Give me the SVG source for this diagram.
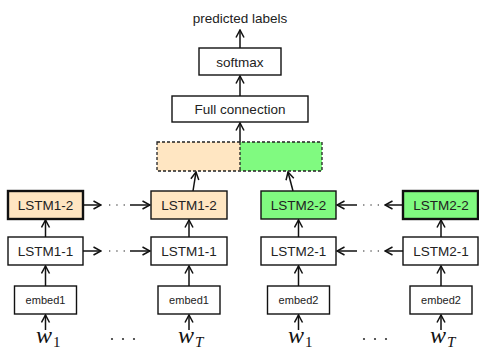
<svg xmlns="http://www.w3.org/2000/svg" width="479" height="349" viewBox="0 0 479 349">
<defs>
<style>
.box{fill:#fff;stroke:#111;stroke-width:1.4}
.thick{stroke-width:2.4}
.or{fill:#FFE6C2}
.gr{fill:#80FA80}
.lbl{font-family:"Liberation Sans",Arial,sans-serif;font-size:13.5px;fill:#222;text-anchor:middle;dominant-baseline:central}
.sm{font-size:11px}
.edge{stroke:#111;stroke-width:1.5;fill:none;marker-end:url(#ah)}
.dots{stroke:#666;stroke-width:1.3;stroke-dasharray:1.3 6;fill:none}
.math{font-family:"Liberation Serif","Times New Roman",serif;font-style:italic;font-size:24px;fill:#111}
.sub{font-family:"Liberation Serif","Times New Roman",serif;font-size:15px;fill:#111}
</style>
<marker id="ah" viewBox="0 0 10 10" refX="9" refY="5" markerWidth="10" markerHeight="10" markerUnits="userSpaceOnUse" orient="auto">
<path d="M1.5,1 L9,5 L1.5,9" fill="none" stroke="#111" stroke-width="1.5"/>
</marker>
</defs>
<rect width="479" height="349" fill="#fff"/>

<g id="connectors">
<line class="edge" x1="240" y1="48" x2="240" y2="30"/>
<line class="edge" x1="240" y1="96" x2="240" y2="76"/>
<line class="edge" x1="240" y1="142" x2="240" y2="123"/>
<line class="edge" x1="193" y1="191" x2="196" y2="172"/>
<line class="edge" x1="293" y1="191" x2="288" y2="172"/>
<line class="edge" x1="83" y1="205" x2="101" y2="205"/>
<line class="dots" x1="109" y1="205" x2="129" y2="205"/>
<line class="edge" x1="130" y1="205" x2="150" y2="205"/>
<line class="edge" x1="403" y1="205" x2="385" y2="205"/>
<line class="dots" x1="379" y1="205" x2="360" y2="205"/>
<line class="edge" x1="357" y1="205" x2="337" y2="205"/>
<line class="edge" x1="83" y1="251" x2="101" y2="251"/>
<line class="dots" x1="109" y1="251" x2="129" y2="251"/>
<line class="edge" x1="130" y1="251" x2="150" y2="251"/>
<line class="edge" x1="403" y1="251" x2="385" y2="251"/>
<line class="dots" x1="379" y1="251" x2="360" y2="251"/>
<line class="edge" x1="357" y1="251" x2="337" y2="251"/>
<line class="edge" x1="45.5" y1="237" x2="45.5" y2="220"/>
<line class="edge" x1="189" y1="237" x2="189" y2="220"/>
<line class="edge" x1="298.5" y1="237" x2="298.5" y2="220"/>
<line class="edge" x1="441" y1="237" x2="441" y2="220"/>
<line class="edge" x1="45.5" y1="286" x2="45.5" y2="266"/>
<line class="edge" x1="189" y1="286" x2="189" y2="266"/>
<line class="edge" x1="298.5" y1="286" x2="298.5" y2="266"/>
<line class="edge" x1="441" y1="286" x2="441" y2="266"/>
<line class="edge" x1="45.5" y1="330" x2="45.5" y2="315"/>
<line class="edge" x1="189" y1="330" x2="189" y2="315"/>
<line class="edge" x1="298.5" y1="330" x2="298.5" y2="315"/>
<line class="edge" x1="441" y1="330" x2="441" y2="315"/>
</g>

<g id="predicted"><text class="lbl" x="240" y="18">predicted labels</text></g>
<g id="softmax"><rect class="box" x="199" y="48" width="82" height="27"/><text class="lbl" x="240" y="62">softmax</text></g>
<g id="full"><rect class="box" x="172" y="96" width="136" height="26"/><text class="lbl" x="240" y="109">Full connection</text></g>
<g id="concat">
<rect x="157" y="142" width="83" height="29" class="or"/>
<rect x="240" y="142" width="82" height="29" class="gr"/>
<rect x="157" y="142" width="165" height="29" fill="none" stroke="#222" stroke-width="1.3" stroke-dasharray="3 2"/>
<line x1="240" y1="142" x2="240" y2="171" stroke="#222" stroke-width="1.3" stroke-dasharray="3 2"/>
</g>

<g id="lstm12a"><rect class="box or thick" x="8" y="191" width="75" height="28"/><text class="lbl" x="45.5" y="205">LSTM1-2</text></g>
<g id="lstm12b"><rect class="box or" x="151" y="191" width="76" height="28"/><text class="lbl" x="189" y="205">LSTM1-2</text></g>
<g id="lstm22a"><rect class="box gr" x="261" y="191" width="75" height="28"/><text class="lbl" x="298.5" y="205">LSTM2-2</text></g>
<g id="lstm22b"><rect class="box gr thick" x="403" y="191" width="75" height="28"/><text class="lbl" x="441" y="205">LSTM2-2</text></g>

<g id="lstm11a"><rect class="box" x="8" y="237" width="75" height="28"/><text class="lbl" x="45.5" y="251">LSTM1-1</text></g>
<g id="lstm11b"><rect class="box" x="151" y="237" width="76" height="28"/><text class="lbl" x="189" y="251">LSTM1-1</text></g>
<g id="lstm21a"><rect class="box" x="261" y="237" width="75" height="28"/><text class="lbl" x="298.5" y="251">LSTM2-1</text></g>
<g id="lstm21b"><rect class="box" x="403" y="237" width="75" height="28"/><text class="lbl" x="441" y="251">LSTM2-1</text></g>

<g id="embed1a"><rect class="box" x="14.5" y="286" width="62" height="28"/><text class="lbl sm" x="45.5" y="300">embed1</text></g>
<g id="embed1b"><rect class="box" x="158" y="286" width="62" height="28"/><text class="lbl sm" x="189" y="300">embed1</text></g>
<g id="embed2a"><rect class="box" x="267.5" y="286" width="62" height="28"/><text class="lbl sm" x="298.5" y="300">embed2</text></g>
<g id="embed2b"><rect class="box" x="410" y="286" width="62" height="28"/><text class="lbl sm" x="441" y="300">embed2</text></g>

<g id="w1a"><text class="math" x="36" y="343">w</text><text class="sub" x="53" y="347">1</text></g>
<g id="wTa"><text class="math" x="178" y="343">w</text><text class="sub math" style="font-size:15px" x="195" y="347">T</text></g>
<g id="w1b"><text class="math" x="288" y="343">w</text><text class="sub" x="305" y="347">1</text></g>
<g id="wTb"><text class="math" x="430" y="343">w</text><text class="sub math" style="font-size:15px" x="447" y="347">T</text></g>
<g id="dotsA" fill="#333"><circle cx="112" cy="339" r="1.1"/><circle cx="123" cy="339" r="1.1"/><circle cx="134" cy="339" r="1.1"/></g>
<g id="dotsB" fill="#333"><circle cx="364" cy="339" r="1.1"/><circle cx="375" cy="339" r="1.1"/><circle cx="386" cy="339" r="1.1"/></g>
</svg>
